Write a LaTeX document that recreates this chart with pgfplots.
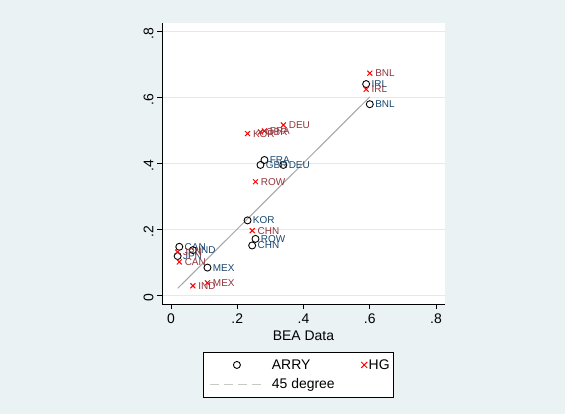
\documentclass[border=0pt]{standalone}
\usepackage{pgfplots}
\pgfplotsset{compat=1.18}
\usepackage{fontspec}
\setmainfont{Liberation Sans}
\definecolor{bgc}{RGB}{234,242,243}
\definecolor{navyc}{RGB}{26,71,111}
\definecolor{maroonc}{RGB}{144,53,59}
\definecolor{gridc}{RGB}{226,234,237}
\definecolor{linec}{RGB}{165,165,165}
\definecolor{legline}{RGB}{200,200,200}
\pgfplotstableread{
x y lab
0.600 0.578 BNL
0.589 0.639 IRL
0.339 0.394 DEU
0.282 0.409 FRA
0.270 0.394 GBR
0.231 0.226 KOR
0.255 0.170 ROW
0.245 0.150 CHN
0.025 0.146 CAN
0.020 0.118 JPN
0.066 0.136 IND
0.110 0.083 MEX
}\arry
\pgfplotstableread{
x y lab
0.600 0.672 BNL
0.589 0.623 IRL
0.339 0.515 DEU
0.282 0.497 FRA
0.270 0.494 GBR
0.231 0.489 KOR
0.255 0.343 ROW
0.245 0.195 CHN
0.025 0.100 CAN
0.020 0.130 JPN
0.066 0.028 IND
0.110 0.037 MEX
}\hg
\begin{document}
\begin{tikzpicture}
\fill[bgc] (0bp,0bp) rectangle (565bp,414bp);
\begin{axis}[
  at={(162bp,110bp)}, anchor=south west,
  scale only axis, width=283bp, height=281bp,
  xmin=-0.0272, xmax=0.827, ymin=-0.0273, ymax=0.824,
  axis background/.style={fill=white},
  axis x line*=bottom, axis y line*=left,
  axis line style={-, black, line width=0.8bp},
  xtick={0,0.2,0.4,0.6,0.8}, xticklabels={0,.2,.4,.6,.8},
  ytick={0,0.2,0.4,0.6,0.8}, yticklabels={0,.2,.4,.6,.8},
  tick align=outside, major tick length=5bp,
  tick style={black, line width=0.8bp},
  ymajorgrids, grid style={gridc, line width=0.8bp},
  ticklabel style={font=\fontsize{14}{16}\selectfont},
  yticklabel style={rotate=90, anchor=south, xshift=-3bp},
  xticklabel style={yshift=-1bp},
  xlabel={BEA Data}, xlabel style={font=\fontsize{14}{16}\selectfont, yshift=-1bp},
  legend columns=2, legend cell align=left,
  legend style={at={(0.1449,-0.1706)}, anchor=north west, draw=black, fill=white,
    line width=0.8bp, font=\fontsize{14}{16}\selectfont,
    inner xsep=3bp, inner ysep=6bp, row sep=6bp,
    nodes={inner sep=1bp},
    /tikz/column 1/.style={column sep=7bp},
    /tikz/column 2/.style={column sep=4bp},
    /tikz/column 3/.style={column sep=0bp}},
  clip=false,
]
\addplot[only marks, mark=o, mark size=3.5bp, black, mark options={line width=0.9bp},
  nodes near coords, point meta=explicit symbolic,
  every node near coord/.style={anchor=west, font=\fontsize{10}{12}\selectfont, text=navyc, inner sep=0pt, xshift=5bp},
  legend image code/.code={\path[draw=none] (-4bp,0bp) -- (53bp,0bp); \draw[black, line width=0.9bp] (26.5bp,0bp) circle (3.5bp);}]
  table[x=x, y=y, meta=lab] {\arry};
\addlegendentry{ARRY}
\addplot[only marks, mark=x, mark size=3.5bp, red, mark options={line width=1bp},
  nodes near coords, point meta=explicit symbolic,
  every node near coord/.style={anchor=west, font=\fontsize{10}{12}\selectfont, text=maroonc, inner sep=0pt, xshift=5bp},
  legend image code/.code={\path[draw=none] (0bp,0bp) -- (28bp,0bp); \draw[red, line width=1bp] (21.5bp,-3bp) -- (27.5bp,3bp) (21.5bp,3bp) -- (27.5bp,-3bp);}]
  table[x=x, y=y, meta=lab] {\hg};
\addlegendentry{HG\hspace{9bp}}
\addplot[linec, line width=1bp, no marks,
  legend image code/.code={\path[draw=none] (-4bp,0bp) -- (53bp,0bp); \draw[legline, line width=1bp, dash pattern=on 9bp off 5bp] (0bp,0bp) -- (53bp,0bp);}]
  coordinates {(0.020,0.020) (0.600,0.600)};
\addlegendentry{45 degree}
\end{axis}
\pgfresetboundingbox
\path (0bp,0bp) rectangle (565bp,414bp);
\end{tikzpicture}
\end{document}
